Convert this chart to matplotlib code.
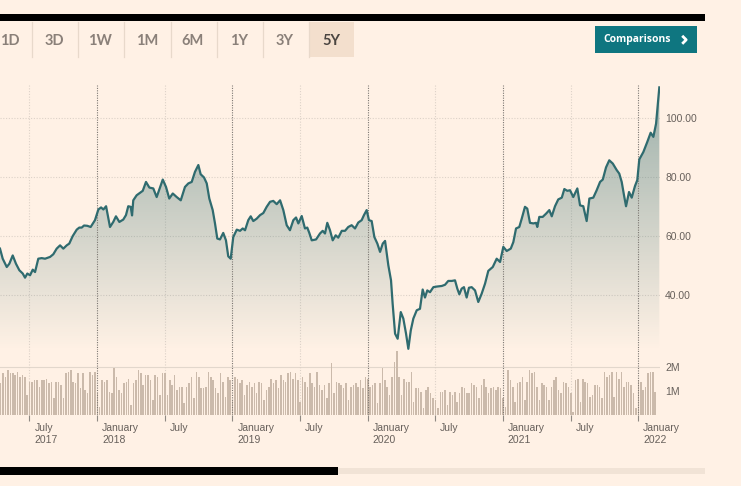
import numpy as np
import matplotlib
matplotlib.use("Agg")
import matplotlib.pyplot as plt
from matplotlib.patches import Polygon, Rectangle
from matplotlib.transforms import ScaledTranslation

# price series, time in decimal years
price_t = [2017.283, 2017.303, 2017.333, 2017.352, 2017.377, 2017.401, 2017.426, 2017.451, 2017.468, 2017.485,
           2017.505, 2017.525, 2017.542, 2017.566, 2017.591, 2017.616, 2017.653, 2017.677, 2017.702, 2017.727,
           2017.751, 2017.776, 2017.795, 2017.820, 2017.850, 2017.869, 2017.887, 2017.904, 2017.928, 2017.953,
           2017.985, 2018.010, 2018.030, 2018.047, 2018.067, 2018.096, 2018.120, 2018.140, 2018.165, 2018.194,
           2018.214, 2018.231, 2018.249, 2018.259, 2018.268, 2018.293, 2018.338, 2018.362, 2018.387, 2018.416,
           2018.441, 2018.486, 2018.510, 2018.534, 2018.560, 2018.589, 2018.619, 2018.650, 2018.675, 2018.700,
           2018.724, 2018.749, 2018.766, 2018.791, 2018.811, 2018.830, 2018.855, 2018.872, 2018.889, 2018.909,
           2018.933, 2018.953, 2018.970, 2018.988, 2019.007, 2019.033, 2019.057, 2019.077, 2019.094, 2019.118,
           2019.136, 2019.155, 2019.180, 2019.205, 2019.229, 2019.254, 2019.279, 2019.303, 2019.328, 2019.353,
           2019.377, 2019.402, 2019.426, 2019.451, 2019.471, 2019.488, 2019.513, 2019.537, 2019.554, 2019.569,
           2019.587, 2019.619, 2019.648, 2019.668, 2019.685, 2019.702, 2019.722, 2019.742, 2019.764, 2019.783,
           2019.809, 2019.833, 2019.857, 2019.882, 2019.907, 2019.931, 2019.956, 2019.973, 2019.993, 2020.010,
           2020.030, 2020.050, 2020.072, 2020.092, 2020.112, 2020.129, 2020.153, 2020.173, 2020.185, 2020.203,
           2020.222, 2020.245, 2020.264, 2020.284, 2020.301, 2020.319, 2020.338, 2020.363, 2020.387, 2020.407,
           2020.424, 2020.441, 2020.461, 2020.486, 2020.511, 2020.548, 2020.572, 2020.596, 2020.622, 2020.646,
           2020.663, 2020.678, 2020.695, 2020.712, 2020.732, 2020.749, 2020.769, 2020.794, 2020.818, 2020.843,
           2020.868, 2020.892, 2020.925, 2020.954, 2020.979, 2021.003, 2021.028, 2021.058, 2021.077, 2021.097,
           2021.121, 2021.139, 2021.163, 2021.180, 2021.200, 2021.225, 2021.245, 2021.254, 2021.269, 2021.294,
           2021.319, 2021.343, 2021.361, 2021.385, 2021.409, 2021.435, 2021.454, 2021.476, 2021.496, 2021.520,
           2021.550, 2021.570, 2021.594, 2021.619, 2021.639, 2021.668, 2021.693, 2021.718, 2021.738, 2021.762,
           2021.786, 2021.812, 2021.841, 2021.860, 2021.878, 2021.895, 2021.910, 2021.932, 2021.952, 2021.976,
           2021.993, 2022.008, 2022.038, 2022.067, 2022.092, 2022.112, 2022.132, 2022.156]
price_v = [55.8, 52.4, 49.6, 50.7, 53.5, 50.7, 48.5, 47.4, 46.0, 47.4,
           46.8, 48.7, 47.9, 52.4, 52.6, 52.4, 53.0, 53.9, 55.8, 56.9,
           55.8, 56.9, 57.5, 60.0, 62.2, 62.9, 62.9, 63.6, 63.5, 63.1,
           65.4, 69.0, 69.7, 69.0, 70.1, 63.1, 64.8, 66.7, 64.8, 65.6,
           67.1, 70.1, 69.9, 67.0, 72.1, 73.8, 75.3, 78.3, 76.4, 76.1,
           73.2, 79.1, 76.6, 72.7, 74.4, 73.2, 72.1, 76.6, 77.8, 78.3,
           81.7, 84.0, 80.9, 79.8, 77.8, 72.7, 68.8, 64.3, 59.2, 58.9,
           61.1, 58.6, 53.2, 52.4, 59.7, 62.2, 61.8, 62.6, 62.0, 65.4,
           66.7, 65.1, 65.9, 67.1, 67.8, 69.9, 71.6, 71.9, 70.8, 72.1,
           68.8, 63.7, 62.0, 65.4, 66.3, 64.3, 66.8, 62.6, 62.9, 61.1,
           58.6, 58.9, 60.9, 61.8, 60.9, 64.5, 62.0, 58.6, 60.3, 59.5,
           61.8, 61.8, 63.1, 63.7, 62.6, 64.6, 65.4, 67.1, 68.8, 65.4,
           65.1, 59.7, 57.5, 54.7, 57.5, 58.4, 50.2, 45.1, 37.2, 27.1,
           25.4, 34.4, 32.2, 27.1, 22.0, 28.2, 32.2, 35.0, 35.5, 42.0,
           39.3, 41.7, 41.1, 42.8, 43.0, 43.2, 43.6, 44.9, 44.9, 45.1,
           42.3, 40.4, 42.3, 42.8, 39.3, 42.6, 42.8, 41.7, 37.8, 40.6,
           44.0, 48.3, 49.6, 52.4, 51.3, 56.4, 55.0, 55.8, 58.0, 62.6,
           63.1, 65.9, 69.9, 69.3, 64.5, 64.3, 64.5, 63.1, 66.5, 66.5,
           67.6, 68.8, 66.7, 70.1, 72.4, 73.0, 75.9, 75.3, 75.5, 73.2,
           76.1, 70.4, 70.1, 65.1, 72.7, 73.0, 75.5, 78.3, 79.1, 83.2,
           85.6, 84.5, 82.3, 81.1, 78.3, 73.8, 70.1, 74.9, 73.0, 76.9,
           78.9, 85.9, 88.4, 91.8, 94.9, 93.5, 98.0, 110.2]

# weekly volume in millions
volume = [1.31, 1.72, 1.58, 1.86, 1.72, 1.72, 1.65, 1.79, 1.58, 1.65,
          1.58, 0.82, 1.38, 1.38, 1.44, 1.44, 1.17, 1.44, 1.44, 1.51,
          1.31, 1.38, 0.68, 1.38, 1.38, 1.24, 0.68, 1.72, 1.79, 1.86,
          1.38, 1.31, 1.72, 1.10, 1.72, 1.03, 0.89, 1.79, 1.65, 1.79,
          0.89, 0.33, 1.44, 1.38, 1.44, 0.96, 0.89, 1.93, 1.58, 1.03,
          0.89, 1.31, 1.38, 1.51, 0.40, 1.31, 1.44, 1.86, 1.72, 1.24,
          1.65, 1.65, 1.44, 0.61, 1.65, 1.58, 0.82, 1.72, 1.72, 0.82,
          1.44, 1.24, 1.65, 1.03, 1.17, 1.17, 0.47, 1.17, 1.31, 1.58,
          0.68, 1.79, 1.58, 1.10, 1.10, 1.17, 1.79, 1.58, 1.44, 1.10,
          0.89, 1.72, 1.38, 0.75, 1.58, 1.44, 0.61, 1.58, 1.51, 1.31,
          1.44, 0.82, 1.24, 1.38, 1.17, 1.31, 0.89, 1.38, 1.31, 0.61,
          1.03, 1.17, 1.51, 1.31, 1.44, 1.10, 1.65, 1.44, 1.38, 1.72,
          1.79, 1.51, 1.72, 1.44, 0.54, 1.58, 1.38, 1.17, 1.72, 1.31,
          1.17, 1.79, 1.24, 1.03, 1.24, 0.68, 1.31, 2.14, 0.89, 1.38,
          1.31, 1.24, 1.10, 1.31, 0.61, 1.17, 1.24, 1.31, 1.17, 1.44,
          1.10, 1.58, 1.51, 1.17,
          1.24, 1.31, 0.47, 1.31, 1.93, 1.44, 1.17, 0.82, 1.58, 2.21,
          2.65, 1.58, 0.82, 1.51, 1.38, 1.38, 1.79, 0.54, 1.10, 1.10,
          0.96, 0.26, 1.03, 1.17, 0.89, 0.68, 0.61, 0.26, 0.96, 0.96,
          1.03, 0.40, 0.96, 0.82, 0.96, 0.54, 0.89, 1.17, 1.10, 0.89,
          0.89, 1.31, 1.24, 1.17, 0.68, 1.24, 1.47, 1.17, 0.89, 1.10,
          1.17, 1.03, 1.17, 1.10, 0.68, 0.33, 1.86, 1.44, 1.17, 0.54,
          1.31, 1.38, 1.58, 0.61, 1.38, 1.86, 1.72, 1.79, 1.17, 0.61,
          1.31, 1.24, 1.17, 0.61, 1.17, 1.44, 1.58, 1.03, 0.89, 1.38,
          1.31, 1.17, 0.89, 0.13, 1.44, 1.51, 0.54, 1.51, 1.38, 1.31,
          0.75, 0.82, 1.24, 1.24, 1.17, 0.68, 1.79, 1.58, 1.65, 1.79,
          0.75, 1.79, 1.51, 1.79, 1.17, 1.38, 1.38, 1.24, 0.89, 0.26,
          1.44, 1.38, 1.03, 1.17, 1.72, 1.79, 1.79, 0.96]
vol_start, vol_end = 2017.288, 2022.126

xticks = [2017.5, 2018.0, 2018.5, 2019.0, 2019.5, 2020.0, 2020.5, 2021.0, 2021.5, 2022.0]
xlabels = ["July\n2017", "January\n2018", "July", "January\n2019", "July",
           "January\n2020", "July", "January\n2021", "July", "January\n2022"]
price_ticks = [40, 60, 80, 100]
vol_ticks = [1, 2]
vol_labels = ["1M", "2M"]
tabs = ["1D", "3D", "1W", "1M", "6M", "1Y", "3Y", "5Y"]

bg = "#fff1e5"
line_col = "#2f6b6f"
txt_col = "#67605b"
W, H = 741, 486
xmin, xmax = 2017.283, 2022.161

fig = plt.figure(figsize=(W / 100, H / 100), dpi=100, facecolor=bg)


def fx(px):
    return px / W


def fy(py):
    return 1 - py / H


# price panel: y=85..350 px
ax = fig.add_axes([0, fy(350), fx(660), fy(85) - fy(350)])
ax.set_facecolor("none")
ymin, ymax = 21.6, 111.0
ax.set_xlim(xmin, xmax)
ax.set_ylim(ymin, ymax)

# gradient fill under the line
xs = np.array(price_t)
ys = np.array(price_v)
verts = np.column_stack([np.r_[xs[0], xs, xs[-1]], np.r_[ymin, ys, ymin]])
poly = Polygon(verts, closed=True, facecolor="none", edgecolor="none")
ax.add_patch(poly)
grad = np.zeros((256, 1, 4))
grad[..., 0] = 0.24
grad[..., 1] = 0.45
grad[..., 2] = 0.45
grad[:, 0, 3] = np.linspace(0.0, 0.52, 256)
im = ax.imshow(grad, extent=[xmin, xmax, ymin, ymax], aspect="auto", origin="lower", zorder=1)
im.set_clip_path(poly)
ax.plot(xs, ys, color=line_col, lw=1.6, zorder=3, solid_joinstyle="round")

for v in price_ticks:
    ax.axhline(v, color="#ddd2c8", lw=0.8, ls=(0, (1, 1.5)), zorder=0)

for t in xticks:
    if t == int(t):
        ax.axvline(t, color="#7c7772", lw=0.8, ls=(0, (1, 1.2)), zorder=2)
    else:
        ax.axvline(t, color="#ddd2c8", lw=0.8, ls=(0, (1, 1.5)), zorder=0)

ax.yaxis.tick_right()
ax.set_yticks(price_ticks, [f"{v:.2f}" for v in price_ticks])
ax.tick_params(axis="y", length=0, pad=3.6, labelsize=7.5, labelcolor=txt_col)
ax.set_xticks([])
for lab in ax.get_yticklabels():
    lab.set_fontfamily("Liberation Sans")
for s in ax.spines.values():
    s.set_visible(False)

# volume panel: y=350..414.7 px
axv = fig.add_axes([0, fy(414.7), fx(660), fy(350) - fy(414.7)])
axv.set_facecolor("none")
vx = np.linspace(vol_start, vol_end, len(volume))
axv.bar(vx, volume, width=0.0115, color="#cbbaab", zorder=2)
axv.set_xlim(xmin, xmax)
axv.set_ylim(0, 2.7)
axv.axhline(2, color="#e2d7cc", lw=0.8, zorder=1)
for t in xticks:
    if t == int(t):
        axv.axvline(t, color="#7c7772", lw=0.8, ls=(0, (1, 1.2)), zorder=3)
    else:
        axv.axvline(t, color="#ddd2c8", lw=0.8, ls=(0, (1, 1.5)), zorder=1)
axv.yaxis.tick_right()
axv.set_yticks(vol_ticks, vol_labels)
axv.tick_params(axis="y", length=0, pad=3.6, labelsize=7.5, labelcolor=txt_col)
axv.set_xticks(xticks, xlabels)
axv.tick_params(axis="x", length=4.3, width=0.8, color="#8f8983", pad=1.5,
                labelsize=7.5, labelcolor=txt_col)
off = ScaledTranslation(0.05, 0, fig.dpi_scale_trans)
for lab in axv.get_xticklabels():
    lab.set_horizontalalignment("left")
    lab.set_fontfamily("Liberation Sans")
    lab.set_linespacing(1.25)
    lab.set_transform(lab.get_transform() + off)
for lab in axv.get_yticklabels():
    lab.set_fontfamily("Liberation Sans")
for s in axv.spines.values():
    s.set_visible(False)

# page furniture in pixel coords
deco = fig.add_axes([0, 0, 1, 1], zorder=-1)
deco.set_xlim(0, W)
deco.set_ylim(H, 0)
deco.axis("off")
deco.add_patch(Rectangle((0, 14), 705, 7.5, color="black", lw=0))
deco.add_patch(Rectangle((309.3, 22.5), 44.7, 34.5, color="#f3dfcd", lw=0))
for sx in [31.7, 78.3, 124, 170.7, 216.7, 262.7, 309.3]:
    deco.plot([sx, sx], [22.5, 57], color="#e8d9cb", lw=0.9)
tab_x = [9.5, 54.3, 100.3, 146.7, 192.8, 238.7, 285, 331.7]
for name, cx in zip(tabs, tab_x):
    deco.text(cx, 41, name, ha="center", va="center", fontsize=10.5,
              family="Lato", weight="bold",
              color="#4a4541" if name == "5Y" else "#8a8079")
deco.add_patch(Rectangle((595, 25.7), 101.7, 27.6, color="#0f7680", lw=0))
deco.text(603.3, 39.6, "Comparisons", ha="left", va="center", fontsize=7.5,
          family="Open Sans", weight="bold", color="white")
deco.plot([682.2, 686.2, 682.2], [35.8, 39.8, 43.8], color="white", lw=2.0,
          solid_capstyle="butt")
deco.add_patch(Rectangle((0, 467.3), 338, 7.5, color="black", lw=0))
deco.add_patch(Rectangle((338, 467.8), 367, 6.5, color="#f1e3d6", lw=0))

fig.savefig("out.png", dpi=100, facecolor=bg)
